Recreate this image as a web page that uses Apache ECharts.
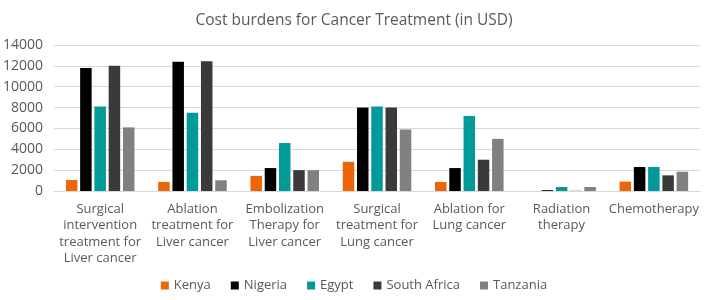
<!DOCTYPE html>
<html>
<head>
<meta charset="utf-8">
<script src="https://cdn.jsdelivr.net/npm/echarts@6/dist/echarts.min.js"></script>
<style>
  html, body { margin: 0; padding: 0; background: #fff; }
  #chart { width: 708px; height: 300px; }
</style>
</head>
<body>
<div id="chart"></div>
<script>
// treatment categories (wrapped as in the source)
var categories = [
  'Surgical\nintervention\ntreatment for\nLiver cancer',
  'Ablation\ntreatment for\nLiver cancer',
  'Embolization\nTherapy for\nLiver cancer',
  'Surgical\ntreatment for\nLung cancer',
  'Ablation for\nLung cancer',
  'Radiation\ntherapy',
  'Chemotherapy'
];
var countries = ['Kenya', 'Nigeria', 'Egypt', 'South Africa', 'Tanzania'];

// costs in USD
var kenya       = [1050,  870, 1450, 2800,  870,   0,  900];
var nigeria     = [11800, 12400, 2200, 8000, 2200,  80, 2300];
var egypt       = [8100, 7500, 4600, 8100, 7200, 380, 2300];
var southAfrica = [12000, 12450, 2000, 8000, 3000,  20, 1500];
var tanzania    = [6100, 1030, 2000, 5900, 5000, 380, 1850];

var yTicks = [0, 2000, 4000, 6000, 8000, 10000, 12000, 14000];

var colors = ['#ec6608', '#000000', '#009a9a', '#3a3a3a', '#808080'];
var seriesData = [kenya, nigeria, egypt, southAfrica, tanzania];
var font = '"Open Sans", "Noto Sans", sans-serif';

var chart = echarts.init(document.getElementById('chart'));

var series = countries.map(function(name, i) {
  return {
    name: name,
    type: 'bar',
    data: seriesData[i],
    barWidth: 11.5,
    barGap: '24%',
    itemStyle: { color: colors[i] }
  };
});

var option = {
  animation: false,
  color: colors,
  textStyle: { fontFamily: font },
  title: {
    text: 'Cost burdens for Cancer Treatment (in USD)',
    left: 'center',
    top: 8,
    textStyle: { fontSize: 15.5, fontWeight: 'normal', color: '#595959', fontFamily: font }
  },
  legend: {
    data: countries,
    bottom: 3,
    left: 'center',
    itemWidth: 8,
    itemHeight: 8,
    itemGap: 20,
    icon: 'rect',
    textStyle: { fontSize: 13, color: '#595959', fontFamily: font }
  },
  grid: { left: 52, right: 8, top: 45, bottom: 109 },
  xAxis: {
    type: 'category',
    data: categories,
    axisLine: { lineStyle: { color: '#d9d9d9' } },
    axisTick: { show: false },
    axisLabel: {
      interval: 0,
      margin: 10,
      fontSize: 13,
      lineHeight: 16.5,
      color: '#595959',
      fontFamily: font
    }
  },
  yAxis: {
    type: 'value',
    min: yTicks[0],
    max: yTicks[yTicks.length - 1],
    interval: 2000,
    axisLine: { show: false },
    axisTick: { show: false },
    splitLine: { lineStyle: { color: '#d9d9d9' } },
    axisLabel: {
      fontSize: 14,
      color: '#595959',
      margin: 11,
      fontFamily: font,
      formatter: function(v) { return String(v); }
    }
  },
  series: series
};

chart.setOption(option);
</script>
</body>
</html>
